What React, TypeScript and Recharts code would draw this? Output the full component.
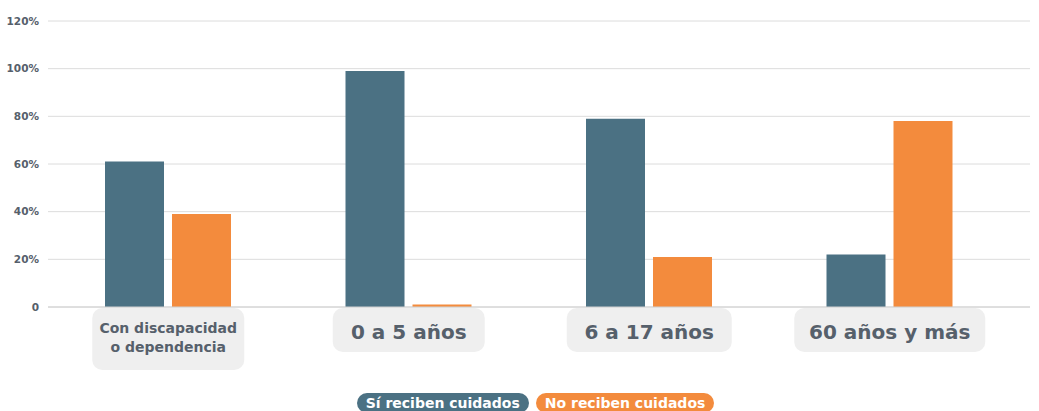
import { BarChart, Bar, XAxis, YAxis, CartesianGrid, Legend } from "recharts";

const categories = ["Con discapacidad\no dependencia", "0 a 5 años", "6 a 17 años", "60 años y más"];
const siReciben = [61, 99, 79, 22];
const noReciben = [39, 1, 21, 78];
const yTicks = [0, 20, 40, 60, 80, 100, 120];

const BLUE = "#4b7183";
const ORANGE = "#f38b3d";
const TEXT = "#56606b";
const FONT = "'DejaVu Sans', sans-serif";

const data = categories.map((c, i) => ({
  name: c,
  si: siReciben[i],
  no: noReciben[i],
}));

function CategoryTick(props: any) {
  const { x, y, payload } = props;
  const lines: string[] = String(payload.value).split("\n");
  const multi = lines.length > 1;
  const longest = Math.max(...lines.map((l) => l.length));
  const w = multi ? 152 : Math.max(152, longest * 13 + 22);
  const h = multi ? 62 : 44;
  const fs = multi ? 14 : 20;
  return (
    <g>
      <rect x={x - w / 2} y={y + 1} width={w} height={h} rx={10} fill="#efefef" />
      {lines.map((l, i) => (
        <text
          key={i}
          x={x}
          y={multi ? y + 22 + i * 19 : y + 26}
          textAnchor="middle"
          dominantBaseline="middle"
          fontFamily={FONT}
          fontWeight="bold"
          fontSize={fs}
          fill={TEXT}
        >
          {l}
        </text>
      ))}
    </g>
  );
}

function LegendPills() {
  const pill = (label: string, color: string) => (
    <span
      style={{
        background: color,
        color: "#fff",
        fontFamily: FONT,
        fontWeight: "bold",
        fontSize: 14,
        lineHeight: "20px",
        padding: "0 9px",
        borderRadius: 10,
        display: "inline-block",
        height: 20,
      }}
    >
      {label}
    </span>
  );
  return (
    <div style={{ display: "flex", justifyContent: "center", gap: 7, paddingLeft: 32, paddingTop: 4 }}>
      {pill("Sí reciben cuidados", BLUE)}
      {pill("No reciben cuidados", ORANGE)}
    </div>
  );
}

export default function App() {
  return (
    <div style={{ position: "absolute", left: 0, top: 0, width: 1039, height: 411, background: "#fff" }}>
      <BarChart
        width={1039}
        height={411}
        data={data}
        margin={{ top: 21, right: 9, left: 0, bottom: 0 }}
        barSize={59}
        barGap={8}
      >
        <CartesianGrid horizontal vertical={false} stroke="#dcdcdc" />
        <XAxis
          dataKey="name"
          height={82}
          interval={0}
          tickLine={false}
          tickSize={0}
          tickMargin={0}
          axisLine={{ stroke: "#d0d0d0" }}
          padding={{ left: 0, right: 20 }}
          tick={<CategoryTick />}
        />
        <YAxis
          width={48}
          domain={[0, 120]}
          ticks={yTicks}
          axisLine={false}
          tickLine={false}
          tickSize={0}
          tickMargin={9}
          tickFormatter={(v: number) => (v === 0 ? "0" : v + "%")}
          tick={{ fontSize: 10.5, fontWeight: "bold", fill: TEXT, fontFamily: FONT }}
        />
        <Legend
          verticalAlign="bottom"
          wrapperStyle={{ height: 22, width: 1039, left: 0, bottom: 0 }}
          content={() => <LegendPills />}
        />
        <Bar dataKey="si" fill={BLUE} isAnimationActive={false} />
        <Bar dataKey="no" fill={ORANGE} isAnimationActive={false} />
      </BarChart>
    </div>
  );
}
